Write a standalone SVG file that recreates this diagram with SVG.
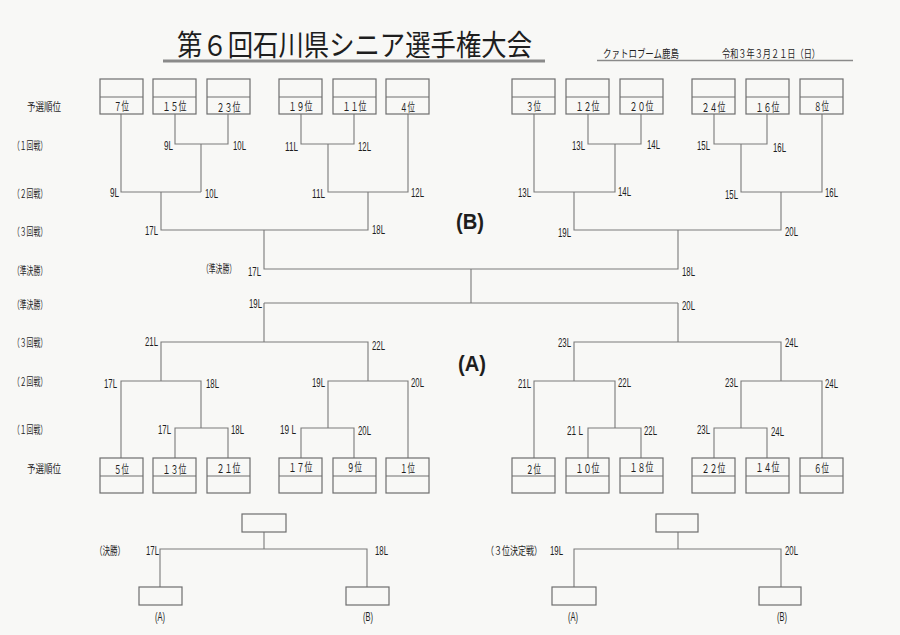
<svg xmlns="http://www.w3.org/2000/svg" width="900" height="635" viewBox="0 0 900 635">
<style>
.bg{fill:#f8f8f6}
.box{fill:none;stroke:#6e6e6e;stroke-width:1.2}
.ln{fill:none;stroke:#7a7a7a;stroke-width:1.1}
.t{font-family:"Noto Sans CJK JP","Liberation Sans",sans-serif;fill:#1e1e1e}
.s{font-size:11px}
.m{font-family:"Liberation Sans Narrow","Liberation Sans",sans-serif;font-size:12px;fill:#1e1e1e}
.big{font-family:"Liberation Sans","Noto Sans CJK JP",sans-serif;font-size:22px;font-weight:bold;fill:#1e1e1e}
.bt{font-family:"Noto Sans CJK JP",sans-serif;font-size:12px;fill:#1e1e1e;text-anchor:middle}
</style>
<rect class="bg" x="0" y="0" width="900" height="635"/>

<g id="header">
<text class="t" x="177" y="56" font-size="29" textLength="355" lengthAdjust="spacingAndGlyphs">第６回石川県シニア選手権大会</text>
<line x1="163" y1="61" x2="545" y2="61" stroke="#8a8a8a" stroke-width="3"/>
<text class="t s" x="603" y="58" textLength="76" lengthAdjust="spacingAndGlyphs">クァトロブーム鹿島</text>
<text class="t s" x="722" y="58" textLength="98" lengthAdjust="spacingAndGlyphs">令和３年３月２１日（日）</text>
<line x1="597" y1="60.5" x2="853" y2="60.5" stroke="#8a8a8a" stroke-width="1.5"/>
</g>

<g id="row-labels">
<text class="t s" x="27" y="111" textLength="34" lengthAdjust="spacingAndGlyphs">予選順位</text>
<text class="t s" x="13" y="150" textLength="34" lengthAdjust="spacingAndGlyphs">（１回戦）</text>
<text class="t s" x="13" y="198" textLength="34" lengthAdjust="spacingAndGlyphs">（２回戦）</text>
<text class="t s" x="13" y="236" textLength="34" lengthAdjust="spacingAndGlyphs">（３回戦）</text>
<text class="t s" x="13" y="275" textLength="34" lengthAdjust="spacingAndGlyphs">（準決勝）</text>
<text class="t s" x="13" y="309" textLength="34" lengthAdjust="spacingAndGlyphs">（準決勝）</text>
<text class="t s" x="13" y="347" textLength="34" lengthAdjust="spacingAndGlyphs">（３回戦）</text>
<text class="t s" x="13" y="386" textLength="34" lengthAdjust="spacingAndGlyphs">（２回戦）</text>
<text class="t s" x="13" y="434" textLength="34" lengthAdjust="spacingAndGlyphs">（１回戦）</text>
<text class="t s" x="27" y="473" textLength="34" lengthAdjust="spacingAndGlyphs">予選順位</text>
<text class="t s" transform="translate(202,273) scale(0.62,1)">（準決勝）</text>
<text class="t s" x="95" y="555" textLength="30" lengthAdjust="spacingAndGlyphs">（決勝）</text>
<text class="t s" transform="translate(486,555) scale(0.727,1)">（３位決定戦）</text>
</g>

<g id="block-labels">
<text class="big" x="456" y="229" textLength="28" lengthAdjust="spacingAndGlyphs">(B)</text>
<text class="big" x="458" y="371" textLength="28" lengthAdjust="spacingAndGlyphs">(A)</text>
</g>

<g id="connectors">
<path class="ln" d="M175,114V144H228V114M201,144V192M121,114V192H201M301,114V144H354V114M328,144V192H408V114M161,192V230H368V192M264,230V269H678V230M471,269V303M264,303H678"/>
<path class="ln" d="M588,114V144H641V114M615,144V192H534V114M714,114V144H767V114M741,144V192H822V114M574,192V230H781V192"/>
<path class="ln" d="M264,303V342M161,381V342H368V381M121,458V381H201V428M175,458V428H228V458M328,428V381H408V458M301,458V428H354V458"/>
<path class="ln" d="M678,303V342M574,381V342H781V381M534,458V381H615V428M588,458V428H641V458M741,428V381H822V458M714,458V428H767V458"/>
<path class="ln" d="M264,532V549M160,587V549H367V587M678,532V549M574,587V549H781V587"/>
</g>

<g id="match-labels">
<text class="m" x="164" y="150" textLength="9" lengthAdjust="spacingAndGlyphs">9L</text>
<text class="m" x="233" y="150" textLength="13" lengthAdjust="spacingAndGlyphs">10L</text>
<text class="m" x="285" y="151" textLength="13" lengthAdjust="spacingAndGlyphs">11L</text>
<text class="m" x="358" y="151" textLength="13" lengthAdjust="spacingAndGlyphs">12L</text>
<text class="m" x="572" y="150" textLength="13" lengthAdjust="spacingAndGlyphs">13L</text>
<text class="m" x="647" y="149" textLength="13" lengthAdjust="spacingAndGlyphs">14L</text>
<text class="m" x="697" y="150" textLength="13" lengthAdjust="spacingAndGlyphs">15L</text>
<text class="m" x="773" y="152" textLength="13" lengthAdjust="spacingAndGlyphs">16L</text>

<text class="m" x="110" y="197" textLength="9" lengthAdjust="spacingAndGlyphs">9L</text>
<text class="m" x="205" y="198" textLength="13" lengthAdjust="spacingAndGlyphs">10L</text>
<text class="m" x="312" y="198" textLength="13" lengthAdjust="spacingAndGlyphs">11L</text>
<text class="m" x="411" y="197" textLength="13" lengthAdjust="spacingAndGlyphs">12L</text>
<text class="m" x="518" y="197" textLength="13" lengthAdjust="spacingAndGlyphs">13L</text>
<text class="m" x="618" y="196" textLength="13" lengthAdjust="spacingAndGlyphs">14L</text>
<text class="m" x="725" y="199" textLength="13" lengthAdjust="spacingAndGlyphs">15L</text>
<text class="m" x="825" y="197" textLength="13" lengthAdjust="spacingAndGlyphs">16L</text>

<text class="m" x="145" y="235" textLength="13" lengthAdjust="spacingAndGlyphs">17L</text>
<text class="m" x="372" y="234" textLength="13" lengthAdjust="spacingAndGlyphs">18L</text>
<text class="m" x="558" y="237" textLength="13" lengthAdjust="spacingAndGlyphs">19L</text>
<text class="m" x="785" y="236" textLength="13" lengthAdjust="spacingAndGlyphs">20L</text>

<text class="m" x="248" y="276" textLength="13" lengthAdjust="spacingAndGlyphs">17L</text>
<text class="m" x="682" y="276" textLength="13" lengthAdjust="spacingAndGlyphs">18L</text>
<text class="m" x="249" y="308" textLength="13" lengthAdjust="spacingAndGlyphs">19L</text>
<text class="m" x="682" y="310" textLength="13" lengthAdjust="spacingAndGlyphs">20L</text>

<text class="m" x="145" y="346" textLength="13" lengthAdjust="spacingAndGlyphs">21L</text>
<text class="m" x="372" y="350" textLength="13" lengthAdjust="spacingAndGlyphs">22L</text>
<text class="m" x="558" y="347" textLength="13" lengthAdjust="spacingAndGlyphs">23L</text>
<text class="m" x="785" y="347" textLength="13" lengthAdjust="spacingAndGlyphs">24L</text>

<text class="m" x="104" y="388" textLength="13" lengthAdjust="spacingAndGlyphs">17L</text>
<text class="m" x="206" y="388" textLength="13" lengthAdjust="spacingAndGlyphs">18L</text>
<text class="m" x="312" y="387" textLength="13" lengthAdjust="spacingAndGlyphs">19L</text>
<text class="m" x="411" y="387" textLength="13" lengthAdjust="spacingAndGlyphs">20L</text>
<text class="m" x="518" y="388" textLength="13" lengthAdjust="spacingAndGlyphs">21L</text>
<text class="m" x="618" y="387" textLength="13" lengthAdjust="spacingAndGlyphs">22L</text>
<text class="m" x="725" y="387" textLength="13" lengthAdjust="spacingAndGlyphs">23L</text>
<text class="m" x="825" y="388" textLength="13" lengthAdjust="spacingAndGlyphs">24L</text>

<text class="m" x="158" y="434" textLength="13" lengthAdjust="spacingAndGlyphs">17L</text>
<text class="m" x="231" y="434" textLength="13" lengthAdjust="spacingAndGlyphs">18L</text>
<text class="m" x="280" y="434" textLength="16" lengthAdjust="spacingAndGlyphs">19 L</text>
<text class="m" x="358" y="435" textLength="13" lengthAdjust="spacingAndGlyphs">20L</text>
<text class="m" x="567" y="435" textLength="16" lengthAdjust="spacingAndGlyphs">21 L</text>
<text class="m" x="644" y="435" textLength="13" lengthAdjust="spacingAndGlyphs">22L</text>
<text class="m" x="697" y="434" textLength="13" lengthAdjust="spacingAndGlyphs">23L</text>
<text class="m" x="771" y="436" textLength="13" lengthAdjust="spacingAndGlyphs">24L</text>

<text class="m" x="146" y="555" textLength="13" lengthAdjust="spacingAndGlyphs">17L</text>
<text class="m" x="375" y="555" textLength="13" lengthAdjust="spacingAndGlyphs">18L</text>
<text class="m" x="550" y="555" textLength="13" lengthAdjust="spacingAndGlyphs">19L</text>
<text class="m" x="785" y="555" textLength="13" lengthAdjust="spacingAndGlyphs">20L</text>
</g>

<g id="seed-7"><rect class="box" x="100" y="79" width="43" height="35"/><line class="box" x1="100" y1="97" x2="143" y2="97"/><text class="bt" x="121.5" y="111" textLength="15" lengthAdjust="spacingAndGlyphs">７位</text></g>
<g id="seed-15"><rect class="box" x="153" y="79" width="43" height="35"/><line class="box" x1="153" y1="97" x2="196" y2="97"/><text class="bt" x="174.5" y="111" textLength="24" lengthAdjust="spacingAndGlyphs">１５位</text></g>
<g id="seed-23"><rect class="box" x="207" y="79" width="43" height="35"/><line class="box" x1="207" y1="97" x2="250" y2="97"/><text class="bt" x="228.5" y="112" textLength="24" lengthAdjust="spacingAndGlyphs">２３位</text></g>
<g id="seed-19"><rect class="box" x="279" y="79" width="43" height="35"/><line class="box" x1="279" y1="97" x2="322" y2="97"/><text class="bt" x="300.5" y="111" textLength="24" lengthAdjust="spacingAndGlyphs">１９位</text></g>
<g id="seed-11"><rect class="box" x="333" y="79" width="43" height="35"/><line class="box" x1="333" y1="97" x2="376" y2="97"/><text class="bt" x="354.5" y="111" textLength="24" lengthAdjust="spacingAndGlyphs">１１位</text></g>
<g id="seed-4"><rect class="box" x="386" y="79" width="43" height="35"/><line class="box" x1="386" y1="97" x2="429" y2="97"/><text class="bt" x="407.5" y="112" textLength="15" lengthAdjust="spacingAndGlyphs">４位</text></g>
<g id="seed-3"><rect class="box" x="512" y="79" width="43" height="35"/><line class="box" x1="512" y1="97" x2="555" y2="97"/><text class="bt" x="533.5" y="111" textLength="15" lengthAdjust="spacingAndGlyphs">３位</text></g>
<g id="seed-12"><rect class="box" x="566" y="79" width="43" height="35"/><line class="box" x1="566" y1="97" x2="609" y2="97"/><text class="bt" x="587.5" y="111" textLength="24" lengthAdjust="spacingAndGlyphs">１２位</text></g>
<g id="seed-20"><rect class="box" x="620" y="79" width="43" height="35"/><line class="box" x1="620" y1="97" x2="663" y2="97"/><text class="bt" x="641.5" y="111" textLength="24" lengthAdjust="spacingAndGlyphs">２０位</text></g>
<g id="seed-24"><rect class="box" x="692" y="79" width="43" height="35"/><line class="box" x1="692" y1="97" x2="735" y2="97"/><text class="bt" x="713.5" y="112" textLength="24" lengthAdjust="spacingAndGlyphs">２４位</text></g>
<g id="seed-16"><rect class="box" x="746" y="79" width="43" height="35"/><line class="box" x1="746" y1="97" x2="789" y2="97"/><text class="bt" x="767.5" y="112" textLength="24" lengthAdjust="spacingAndGlyphs">１６位</text></g>
<g id="seed-8"><rect class="box" x="800" y="79" width="43" height="35"/><line class="box" x1="800" y1="97" x2="843" y2="97"/><text class="bt" x="821.5" y="111" textLength="15" lengthAdjust="spacingAndGlyphs">８位</text></g>

<g id="seed-5"><rect class="box" x="100" y="458" width="43" height="35"/><line class="box" x1="100" y1="476" x2="143" y2="476"/><text class="bt" x="121.5" y="474" textLength="15" lengthAdjust="spacingAndGlyphs">５位</text></g>
<g id="seed-13"><rect class="box" x="153" y="458" width="43" height="35"/><line class="box" x1="153" y1="476" x2="196" y2="476"/><text class="bt" x="174.5" y="474" textLength="24" lengthAdjust="spacingAndGlyphs">１３位</text></g>
<g id="seed-21"><rect class="box" x="207" y="458" width="43" height="35"/><line class="box" x1="207" y1="476" x2="250" y2="476"/><text class="bt" x="228.5" y="473" textLength="24" lengthAdjust="spacingAndGlyphs">２１位</text></g>
<g id="seed-17"><rect class="box" x="279" y="458" width="43" height="35"/><line class="box" x1="279" y1="476" x2="322" y2="476"/><text class="bt" x="300.5" y="472" textLength="24" lengthAdjust="spacingAndGlyphs">１７位</text></g>
<g id="seed-9"><rect class="box" x="333" y="458" width="43" height="35"/><line class="box" x1="333" y1="476" x2="376" y2="476"/><text class="bt" x="354.5" y="472" textLength="15" lengthAdjust="spacingAndGlyphs">９位</text></g>
<g id="seed-1"><rect class="box" x="386" y="458" width="43" height="35"/><line class="box" x1="386" y1="476" x2="429" y2="476"/><text class="bt" x="407.5" y="473" textLength="15" lengthAdjust="spacingAndGlyphs">１位</text></g>
<g id="seed-2"><rect class="box" x="512" y="458" width="43" height="35"/><line class="box" x1="512" y1="476" x2="555" y2="476"/><text class="bt" x="533.5" y="474" textLength="15" lengthAdjust="spacingAndGlyphs">２位</text></g>
<g id="seed-10"><rect class="box" x="566" y="458" width="43" height="35"/><line class="box" x1="566" y1="476" x2="609" y2="476"/><text class="bt" x="587.5" y="473" textLength="24" lengthAdjust="spacingAndGlyphs">１０位</text></g>
<g id="seed-18"><rect class="box" x="620" y="458" width="43" height="35"/><line class="box" x1="620" y1="476" x2="663" y2="476"/><text class="bt" x="641.5" y="472" textLength="24" lengthAdjust="spacingAndGlyphs">１８位</text></g>
<g id="seed-22"><rect class="box" x="692" y="458" width="43" height="35"/><line class="box" x1="692" y1="476" x2="735" y2="476"/><text class="bt" x="713.5" y="473" textLength="24" lengthAdjust="spacingAndGlyphs">２２位</text></g>
<g id="seed-14"><rect class="box" x="746" y="458" width="43" height="35"/><line class="box" x1="746" y1="476" x2="789" y2="476"/><text class="bt" x="767.5" y="472" textLength="24" lengthAdjust="spacingAndGlyphs">１４位</text></g>
<g id="seed-6"><rect class="box" x="800" y="458" width="43" height="35"/><line class="box" x1="800" y1="476" x2="843" y2="476"/><text class="bt" x="821.5" y="473" textLength="15" lengthAdjust="spacingAndGlyphs">６位</text></g>

<g id="final-winner"><rect class="box" x="242" y="514" width="44" height="18"/></g>
<g id="final-a"><rect class="box" x="139" y="587" width="43" height="18"/><text class="m" x="155" y="621" textLength="10" lengthAdjust="spacingAndGlyphs">(A)</text></g>
<g id="final-b"><rect class="box" x="346" y="587" width="43" height="18"/><text class="m" x="363" y="621" textLength="10" lengthAdjust="spacingAndGlyphs">(B)</text></g>
<g id="third-winner"><rect class="box" x="656" y="514" width="42" height="18"/></g>
<g id="third-a"><rect class="box" x="552" y="587" width="44" height="18"/><text class="m" x="568" y="621" textLength="10" lengthAdjust="spacingAndGlyphs">(A)</text></g>
<g id="third-b"><rect class="box" x="759" y="587" width="42" height="18"/><text class="m" x="777" y="621" textLength="10" lengthAdjust="spacingAndGlyphs">(B)</text></g>
</svg>
